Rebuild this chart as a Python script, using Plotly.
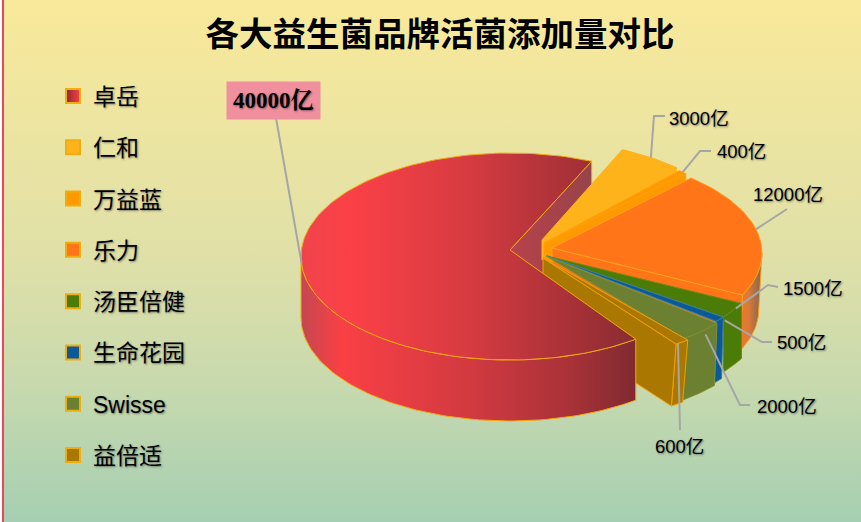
import math
import plotly.graph_objects as go

TITLE = "各大益生菌品牌活菌添加量对比"
brands = ["卓岳", "仁和", "万益蓝", "乐力", "汤臣倍健", "生命花园", "Swisse", "益倍适"]
amounts = [40000, 3000, 400, 12000, 1500, 500, 2000, 600]
colors = ["#f94045", "#ffb31a", "#ff9900", "#ff7518", "#4c7c08", "#0a5a9a", "#6b8030", "#aa7800"]
edge_colors = ["#f0a810", "#ffb31a", "#ffa010", "#ffa020", "#6a8a10", "#3a80a0", "#7f9030", "#f0a000"]
START_ANGLE = 145

# per-slice exploded geometry of the 3D pie (pixels)
cxs = [510, 534, 537, 544, 547, 547, 547, 543]
cys = [256.5, 243, 246, 253, 256, 256, 258, 258]
apex_x = [510, 542, 544, 552, 547, 547, 546, 543]
apex_y = [250, 240, 243, 248, 256, 256, 256, 258]
rxs = [209, 209, 209, 218, 219, 219, 220, 232]
rys = [103.5, 103, 103, 101.6, 103, 103, 103, 105]
depths = [61, 20, 22, 57, 55, 62, 63, 65]
bottom_scale = [1.0, 1, 1, 0.985, 1, 0.99, 0.985, 0.965]
view_shift = [-2, 0, 0, -3, 0, 0, 0, 0]

FONT = "Liberation Sans, Noto Sans CJK SC, sans-serif"
SHADOW = "1px 1px 2px rgba(60,60,60,0.6)"

total = sum(amounts)
angles = []
a = START_ANGLE
for k, v in enumerate(amounts):
    angles.append((a + view_shift[k], a + v / total * 360 + view_shift[k]))
    a += v / total * 360


def pt(i, ang, bottom=False):
    t = math.radians(ang)
    s = bottom_scale[i] if bottom else 1
    dy = depths[i] if bottom else 0
    return (cxs[i] + rxs[i] * s * math.sin(t), cys[i] + dy - rys[i] * s * math.cos(t))


def arc(i, a0, a1, bottom=False):
    n = max(2, int(abs(a1 - a0) / 1.5) + 1)
    return [pt(i, a0 + (a1 - a0) * k / (n - 1), bottom) for k in range(n)]


def poly(points, color, edge=None, gradient=None, width=1):
    xs = [p[0] for p in points] + [points[0][0]]
    ys = [p[1] for p in points] + [points[0][1]]
    kw = dict(fillcolor=color)
    if gradient:
        kw = dict(fillgradient=dict(type="horizontal", colorscale=gradient))
    return go.Scatter(x=xs, y=ys, mode="lines", fill="toself", showlegend=False, hoverinfo="skip",
                      line=dict(color=edge or color, width=width if edge else 0), **kw)


def apex(i, bottom=False):
    return (apex_x[i], apex_y[i] + (depths[i] if bottom else 0))


def top(i, gradient=None):
    return poly([apex(i)] + arc(i, *angles[i]), colors[i], edge_colors[i], gradient)


def outer(i, a0=None, a1=None, gradient=None):
    a0 = angles[i][0] if a0 is None else a0
    a1 = angles[i][1] if a1 is None else a1
    return poly(arc(i, a0, a1) + arc(i, a1, a0, True), colors[i], edge_colors[i], gradient)


def cut(i, ang, color=None, gradient=None):
    return poly([apex(i), pt(i, ang), pt(i, ang, True), apex(i, True)], color or colors[i],
                edge_colors[i], gradient)


fig = go.Figure()
# page background
fig.add_trace(go.Scatter(x=[0, 861, 861, 0, 0], y=[0, 0, 522, 522, 0], mode="lines", fill="toself",
                         showlegend=False, hoverinfo="skip", line=dict(width=0),
                         fillgradient=dict(type="vertical", colorscale=[
                             [0, "#a5cfb2"], [0.25, "#c6d9ae"], [0.5, "#dfe0a8"], [1, "#f9e99a"]])))

# inner face of the big slice, seen through the gap
fig.add_trace(cut(0, angles[0][1], gradient=[[0, "#b8424a"], [1, "#97434a"]]))

# back slices
fig.add_trace(cut(1, angles[1][1]))
fig.add_trace(top(1))
fig.add_trace(cut(2, angles[2][1]))
fig.add_trace(top(2))
fig.add_trace(outer(3, 450, angles[3][1], gradient=[[0, "#f7781a"], [0.4, "#d97a3a"], [1, "#80654f"]]))
fig.add_trace(cut(3, angles[3][1]))
fig.add_trace(top(3))
# front slices
for i in (4, 5, 6, 7):
    fig.add_trace(outer(i))
fig.add_trace(cut(7, angles[7][1]))
for i in (4, 5, 6, 7):
    fig.add_trace(top(i))

# big slice
red_side = [[0, "#c4484f"], [0.12, "#f94045"], [0.5, "#d23a40"], [0.8, "#a93238"], [1, "#802a30"]]
red_top = [[0, "#f0444a"], [0.15, "#fb4047"], [0.5, "#d63b41"], [0.85, "#a13036"], [1, "#882c32"]]
fig.add_trace(outer(0, angles[0][0], 270, gradient=red_side))
fig.add_trace(top(0, gradient=red_top))

# leader lines: anchor on the slice rim -> elbow -> label
leader_elbows = [
    [(276, 118)],
    [(654, 116), (665, 116)],
    [(700, 151), (711, 151)],
    [(787, 209)],
    [(768, 285), (778, 287)],
    [(762, 342), (772, 342)],
    [(740, 405), (750, 405)],
    [(680, 430)],
]
leader_anchor_shift = [(-1, -6), (0, 0), (0, 0), (-2, -3), (3, -2), (5, 1), (4, 3), (-4, 1)]
label_pos = [(273.5, 100), (667, 118), (715, 151), (751, 194), (781, 288), (775, 342), (755, 406), (653, 446)]

for i, elbows in enumerate(leader_elbows):
    p = pt(i, (angles[i][0] + angles[i][1]) / 2)
    p = (p[0] + leader_anchor_shift[i][0], p[1] + leader_anchor_shift[i][1])
    fig.add_trace(go.Scatter(x=[p[0]] + [e[0] for e in elbows], y=[p[1]] + [e[1] for e in elbows],
                             mode="lines", line=dict(color="#a6a6a6", width=2),
                             showlegend=False, hoverinfo="skip"))

for i, v in enumerate(amounts):
    if i == 0:
        fig.add_annotation(x=label_pos[i][0], y=label_pos[i][1], text=f"<b>{v}亿</b>", showarrow=False,
                           xanchor="center", yanchor="middle", bgcolor="#f08f9e", borderpad=6,
                           font=dict(family="Liberation Serif, Noto Serif CJK SC, Noto Sans CJK SC, serif",
                                     size=23, color="#000000", shadow=SHADOW))
    else:
        fig.add_annotation(x=label_pos[i][0], y=label_pos[i][1], text=f"{v}亿", showarrow=False,
                           xanchor="left", yanchor="middle",
                           font=dict(family=FONT, size=18.5, color="#000000", shadow=SHADOW))

# legend entries
for i, name in enumerate(brands):
    marker = dict(symbol="square", size=14, color=colors[i], line=dict(color="#f0ad10", width=2))
    if i == 0:
        marker["color"] = "#8b2a30"
        marker["gradient"] = dict(type="horizontal", color=colors[0])
    fig.add_trace(go.Scatter(x=[None], y=[None], mode="markers", name=name, legendgroup=name, marker=marker))

fig.update_layout(
    width=861, height=522, margin=dict(l=0, r=0, t=0, b=0),
    paper_bgcolor="#f5e8a0", plot_bgcolor="rgba(0,0,0,0)",
    xaxis=dict(range=[0, 861], visible=False, fixedrange=True),
    yaxis=dict(range=[522, 0], visible=False, fixedrange=True),
    title=dict(text=f"<b>{TITLE}</b>", x=440 / 861, y=1 - 34 / 522, xanchor="center", yanchor="middle",
               font=dict(family="Noto Sans CJK SC, sans-serif", size=33.5, color="#000000")),
    legend=dict(x=53 / 861, y=1 - 74.5 / 522, xanchor="left", yanchor="top", bgcolor="rgba(0,0,0,0)",
                tracegroupgap=18.4, font=dict(family=FONT, size=23, color="#000000", shadow=SHADOW)),
    shapes=[
        dict(type="rect", xref="paper", yref="paper", x0=0, x1=2 / 861, y0=0, y1=1,
             fillcolor="#ffffff", line=dict(width=0)),
        dict(type="rect", xref="paper", yref="paper", x0=2 / 861, x1=4 / 861, y0=0, y1=1,
             fillcolor="#e8475f", line=dict(width=0)),
    ],
    showlegend=True,
)

fig.write_html("out.html", config={"displayModeBar": False},
               post_script="document.body.style.margin='0';document.body.style.overflow='hidden';")
